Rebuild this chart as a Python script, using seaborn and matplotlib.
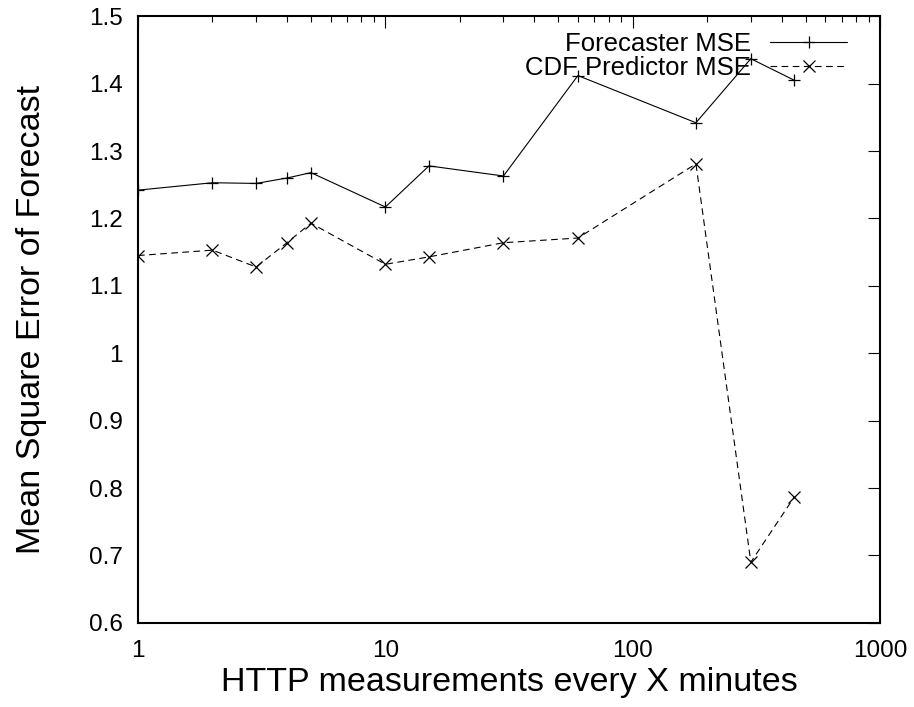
import matplotlib
matplotlib.use('Agg')
import matplotlib.pyplot as plt
import matplotlib.ticker as mticker
import pandas as pd
import seaborn as sns

# valores
minutos = [1, 2, 3, 4, 5, 10, 15, 30, 60, 180, 300, 450]
forecaster_mse = [1.242, 1.253, 1.252, 1.260, 1.268, 1.217, 1.278, 1.263, 1.412, 1.342, 1.437, 1.405]
cdf_mse = [1.145, 1.153, 1.128, 1.164, 1.193, 1.132, 1.143, 1.164, 1.171, 1.281, 0.690, 0.787]

df = pd.DataFrame({'minutos': minutos, 'forecaster': forecaster_mse, 'cdf': cdf_mse})

sns.set_style('white')
plt.rcParams['font.family'] = ['Liberation Sans', 'DejaVu Sans']
plt.rcParams['text.color'] = 'k'
plt.rcParams['axes.labelcolor'] = 'k'

fig, ax = plt.subplots(figsize=(9.14, 7.07), dpi=100)
fig.subplots_adjust(left=0.151, right=0.963, bottom=0.119, top=0.977)

sns.lineplot(data=df, x='minutos', y='forecaster', ax=ax, color='k', lw=0.8,
             marker='+', markersize=9, mec='k', mew=0.9, label='Forecaster MSE')
sns.lineplot(data=df, x='minutos', y='cdf', ax=ax, color='k', lw=0.8, ls=(0, (6, 4)),
             marker='x', markersize=8, mec='k', mew=0.9, label='CDF Predictor MSE')

ax.set_xscale('log')
ax.set_xlim(1, 1000)
ax.set_ylim(0.6, 1.5)
ax.yaxis.set_major_locator(mticker.MultipleLocator(0.1))
ax.yaxis.set_major_formatter(mticker.FuncFormatter(lambda v, p: '%g' % round(v, 2)))
ax.xaxis.set_major_formatter(mticker.FuncFormatter(lambda v, p: '%g' % v))
ax.xaxis.set_minor_formatter(mticker.NullFormatter())

ax.tick_params(which='both', direction='in', top=True, right=True, colors='k',
               labelcolor='k', width=0.8)
ax.tick_params(which='major', length=8.6, labelsize=17.5)
ax.tick_params(axis='x', which='major', pad=12)
ax.tick_params(axis='y', which='major', pad=11)
ax.tick_params(which='minor', length=4.3)
for s in ax.spines.values():
    s.set_color('k')
    s.set_linewidth(1.5)

ax.set_xlabel('HTTP measurements every X minutes', fontsize=24.5, labelpad=4)
ax.set_ylabel('Mean Square Error of Forecast', fontsize=24.5, labelpad=30)

ax.legend(loc='upper right', bbox_to_anchor=(0.973, 0.996), frameon=False, markerfirst=False,
          fontsize=18.5, handlelength=3.0, handletextpad=0.75, labelspacing=0.0, borderpad=0,
          numpoints=1)

plt.savefig('out.png', dpi=100)
